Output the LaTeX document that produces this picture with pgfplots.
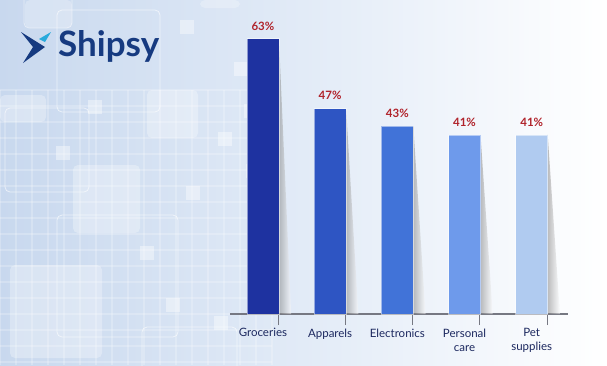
\documentclass[border=0pt]{standalone}
\usepackage{pgfplots}
\pgfplotsset{compat=1.18}
\usepackage{fontspec}
\setmainfont{Lato}
\pgfplotsset{/pgf/number format/assume math mode=true}
\definecolor{navy}{RGB}{28,40,95}
\definecolor{pctred}{RGB}{176,34,42}
\definecolor{logoblue}{RGB}{22,58,128}
\definecolor{logocyan}{RGB}{40,170,220}
\definecolor{bgblue}{RGB}{200,216,238}
\definecolor{bgmid}{RGB}{226,235,247}
\definecolor{axgray}{RGB}{118,120,130}
\definecolor{cA}{RGB}{30,50,160}
\definecolor{cB}{RGB}{46,85,195}
\definecolor{cC}{RGB}{65,115,216}
\definecolor{cD}{RGB}{110,154,235}
\definecolor{cE}{RGB}{176,203,240}
\pgfplotstableread{
x y
0 63
1 47
2 43
3 41
4 41
}\datatable
\begin{document}
\begin{tikzpicture}
\begin{scope}[x=1pt,y=-1pt]
  % background
  \shade[left color=bgblue, right color=white, middle color=bgmid] (0,0) rectangle (607,365);
  % grid of tiles on the left
  \foreach \i in {0,16,...,272} {
    \draw[white,opacity=0.22,line width=1.2pt] (\i,90) -- (\i,365);
  }
  \foreach \j in {90,106,...,365} {
    \draw[white,opacity=0.22,line width=1.2pt] (0,\j) -- (272,\j);
  }
  \foreach \a/\b in {56/146,218/132,88/100,140/246,186/186,246/164,166/298,214/316,234/62,180/20,244/104} {
    \fill[white,opacity=0.4] (\a,\b) rectangle ++(14,14);
  }
  % semi transparent rounded tiles
  \fill[white,opacity=0.3,rounded corners=5pt] (73,165) rectangle (140,233);
  \fill[white,opacity=0.3,rounded corners=5pt] (10,265) rectangle (102,358);
  \fill[white,opacity=0.3,rounded corners=5pt] (147,90) rectangle (198,138);
  \fill[white,opacity=0.3,rounded corners=5pt] (0,95) rectangle (46,122);
  \fill[white,opacity=0.25,rounded corners=5pt] (25,0) rectangle (72,28);
  \fill[white,opacity=0.25,rounded corners=5pt] (200,0) rectangle (240,8);
  % outline rounded tiles
  \draw[white,opacity=0.6,line width=0.8pt,rounded corners=5pt] (57,215) rectangle (178,337);
  \draw[white,opacity=0.6,line width=0.8pt,rounded corners=5pt] (5,108) rectangle (89,192);
  \draw[white,opacity=0.6,line width=0.8pt,rounded corners=5pt] (57,10) rectangle (160,112);
  \draw[white,opacity=0.6,line width=0.8pt,rounded corners=5pt] (142,327) rectangle (237,372);
  \draw[white,opacity=0.5,line width=0.8pt,rounded corners=5pt] (24,-5) rectangle (72,28);
  % logo
  \fill[logoblue] (21,32) -- (45,47) -- (23,63) -- (33,47) -- cycle;
  \fill[logocyan] (39,39) -- (51,32) -- (45,42) -- cycle;
  \node[anchor=west,inner sep=0pt,text=logoblue,font=\fontsize{35}{35}\selectfont\bfseries] at (58,46) {Shipsy};
\end{scope}
\begin{axis}[
  at={(230pt,-314pt)}, anchor=south west,
  scale only axis, width=338pt, height=305.9pt,
  xmin=-0.49, xmax=4.54, ymin=0, ymax=70,
  axis y line=none, axis x line*=bottom,
  axis line style={axgray, line width=2pt, -},
  xtick={0,1,2,3,4},
  xticklabels={Groceries,Apparels,Electronics,{Personal\\care},{Pet\\supplies}},
  xticklabel style={align=center, text=navy, font=\fontsize{11.5}{14}\selectfont, anchor=north, yshift=-11pt},
  major tick length=0pt,
  extra x ticks={0.23,1.23,2.23,3.23,4.23},
  extra x tick labels={},
  extra x tick style={major tick length=11pt, tick align=outside, tick style={axgray, line width=1pt}},
  clip=false,
]
  \addplot[draw=none, left color=black!50, right color=white, opacity=0.5] coordinates {(0.238,63) (0.238,0) (0.42,0)} -- cycle;
  \addplot[draw=none, left color=black!50, right color=white, opacity=0.5] coordinates {(1.238,47) (1.238,0) (1.42,0)} -- cycle;
  \addplot[draw=none, left color=black!50, right color=white, opacity=0.5] coordinates {(2.238,43) (2.238,0) (2.42,0)} -- cycle;
  \addplot[draw=none, left color=black!50, right color=white, opacity=0.5] coordinates {(3.238,41) (3.238,0) (3.42,0)} -- cycle;
  \addplot[draw=none, left color=black!50, right color=white, opacity=0.5] coordinates {(4.238,41) (4.238,0) (4.42,0)} -- cycle;
  \addplot[ybar, bar width=32pt, draw=white, draw opacity=0.5, line width=0.6pt, fill=cA] coordinates {(0,63)};
  \addplot[ybar, bar width=32pt, draw=white, draw opacity=0.5, line width=0.6pt, fill=cB] coordinates {(1,47)};
  \addplot[ybar, bar width=32pt, draw=white, draw opacity=0.5, line width=0.6pt, fill=cC] coordinates {(2,43)};
  \addplot[ybar, bar width=32pt, draw=white, draw opacity=0.5, line width=0.6pt, fill=cD] coordinates {(3,41)};
  \addplot[ybar, bar width=32pt, draw=white, draw opacity=0.5, line width=0.6pt, fill=cE] coordinates {(4,41)};
  \addplot[only marks, mark=none, nodes near coords={\pgfmathprintnumber{\pgfplotspointmeta}\%},
    nodes near coords style={text=pctred, font=\fontsize{11.5}{11.5}\selectfont\bfseries, anchor=south, yshift=5pt}] table[x=x,y=y] {\datatable};
\end{axis}
\pgfresetboundingbox
\useasboundingbox (0pt,0pt) rectangle (607pt,-365pt);
\end{tikzpicture}
\end{document}
